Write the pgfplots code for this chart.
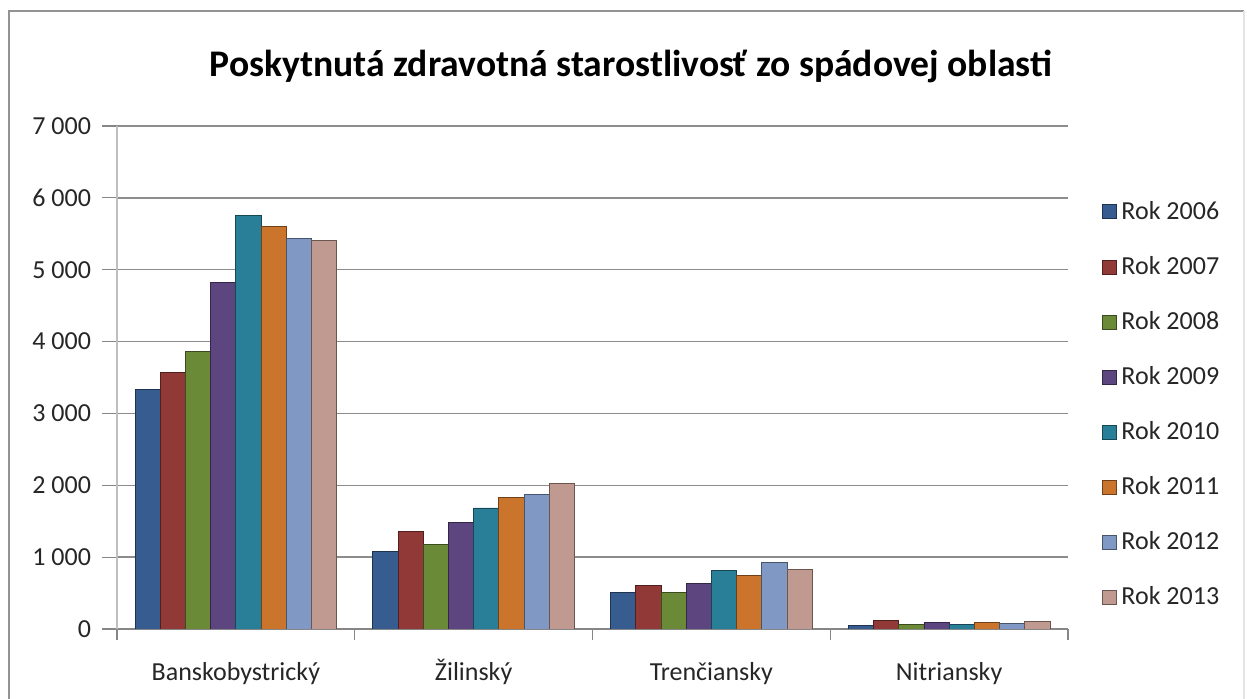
\documentclass[border=0pt]{standalone}
\usepackage{pgfplots}
\pgfplotsset{compat=1.18}
\usepackage{fontspec}
\setmainfont{Carlito}
\definecolor{cA}{HTML}{375C8F}
\definecolor{cB}{HTML}{913937}
\definecolor{cC}{HTML}{6A8A38}
\definecolor{cD}{HTML}{5D4580}
\definecolor{cE}{HTML}{2A7F98}
\definecolor{cF}{HTML}{CB752C}
\definecolor{cG}{HTML}{8099C4}
\definecolor{cH}{HTML}{C09A90}
\definecolor{gridgray}{HTML}{8C8C8C}
\definecolor{axgray}{HTML}{868686}
\definecolor{ylgray}{HTML}{BFBFBF}
\definecolor{txt}{HTML}{262626}
\pgfplotsset{bar3d/.style={fill=#1, draw=#1!55!black, line width=0.4pt}}
\begin{document}
\begin{tikzpicture}[font=\fontsize{13}{15.6}\selectfont]
\path[use as bounding box] (-58.5pt,-35pt) rectangle (565pt,314.5pt);
\draw[color=gray!85, line width=1.3pt] (-54pt,-40pt) -- (-54pt,309pt) -- (563.5pt,309pt);
\draw[color=gray!20, line width=0.6pt] (563.5pt,309pt) -- (563.5pt,-40pt);
\begin{axis}[
  at={(0pt,0pt)}, anchor=south west,
  scale only axis, width=475.5pt, height=251.5pt,
  xmin=-0.5, xmax=3.5, ymin=0, ymax=7000,
  ybar=0pt, bar width=12.6pt,
  xtick={0,1,2,3},
  xticklabels={Banskobystrický,Žilinský,Trenčiansky,Nitriansky},
  minor xtick={-0.5,0.5,1.5,2.5,3.5},
  ytick={0,1000,2000,3000,4000,5000,6000,7000},
  yticklabels={0,1 000,2 000,3 000,4 000,5 000,6 000,7 000},
  tick align=outside,
  major tick length=7.5pt, minor tick length=5.5pt,
  major x tick style={draw=none},
  minor x tick style={draw=axgray, line width=0.6pt},
  major y tick style={draw=axgray, line width=0.6pt},
  axis x line*=bottom, axis y line*=left,
  x axis line style={draw=axgray, line width=0.7pt, -},
  y axis line style={draw=ylgray, line width=0.7pt, -},
  ymajorgrids, grid style={draw=gridgray, line width=0.7pt},
  ticklabel style={text=txt},
  yticklabel style={anchor=east, xshift=-2pt},
  xticklabel style={anchor=base, yshift=-18.5pt},
  title={Poskytnutá zdravotná starostlivosť zo spádovej oblasti},
  title style={at={(0.5405,1.075)}, anchor=base, font=\bfseries\fontsize{18.8}{23}\selectfont, text=black},
  legend style={at={(1.035,0.855)}, anchor=north west, draw=none, fill=none,
    row sep=15pt, column sep=1.5pt, inner sep=0pt, nodes={inner sep=1pt, text=txt}},
  legend cell align=left,
  legend image code/.code={\fill[#1] (0pt,-3.5pt) rectangle (7pt,3.5pt);},
]
\addplot[bar3d=cA] coordinates {(0,3330) (1,1075) (2,505) (3,50)};
\addplot[bar3d=cB] coordinates {(0,3570) (1,1360) (2,605) (3,115)};
\addplot[bar3d=cC] coordinates {(0,3860) (1,1180) (2,505) (3,60)};
\addplot[bar3d=cD] coordinates {(0,4825) (1,1485) (2,640) (3,85)};
\addplot[bar3d=cE] coordinates {(0,5760) (1,1685) (2,810) (3,65)};
\addplot[bar3d=cF] coordinates {(0,5605) (1,1830) (2,745) (3,85)};
\addplot[bar3d=cG] coordinates {(0,5430) (1,1870) (2,920) (3,75)};
\addplot[bar3d=cH] coordinates {(0,5405) (1,2030) (2,830) (3,110)};
\legend{Rok 2006,Rok 2007,Rok 2008,Rok 2009,Rok 2010,Rok 2011,Rok 2012,Rok 2013}
\end{axis}
\end{tikzpicture}
\end{document}
